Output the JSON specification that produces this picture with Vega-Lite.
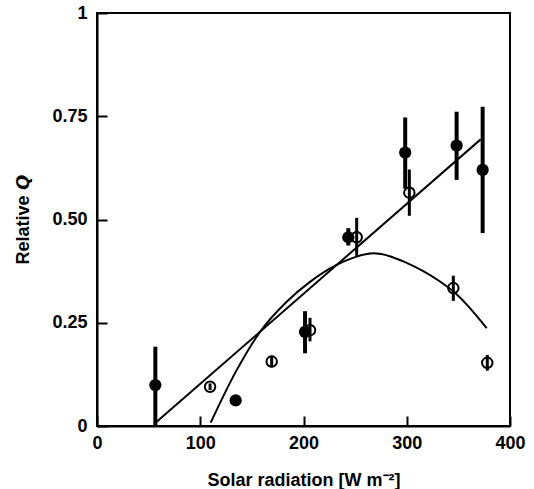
{
  "$schema": "https://vega.github.io/schema/vega-lite/v6.json",
  "width": 413,
  "height": 413,
  "autosize": {"type": "none"},
  "padding": {"left": 97, "top": 13, "right": 24, "bottom": 63},
  "background": "white",
  "config": {
    "view": {"stroke": "black", "strokeWidth": 2},
    "axis": {
      "grid": false,
      "domainColor": "black",
      "domainWidth": 2,
      "tickColor": "black",
      "tickWidth": 2,
      "tickSize": -10,
      "labelFont": "Liberation Sans",
      "labelFontWeight": "bold",
      "labelFontSize": 18,
      "labelColor": "black",
      "labelFlush": false,
      "labelOverlap": false,
      "titleFont": "Liberation Sans",
      "titleFontWeight": "bold",
      "titleFontSize": 18,
      "titleColor": "black"
    }
  },
  "datasets": {
    "pts": [
      {"x": 56.5, "y": 0.099, "lo": 0.0, "hi": 0.192, "type": "filled"},
      {"x": 134.3, "y": 0.062, "lo": 0.062, "hi": 0.062, "type": "filled"},
      {"x": 201.5, "y": 0.228, "lo": 0.176, "hi": 0.278, "type": "filled"},
      {"x": 243.4, "y": 0.457, "lo": 0.437, "hi": 0.479, "type": "filled"},
      {"x": 298.5, "y": 0.662, "lo": 0.575, "hi": 0.747, "type": "filled"},
      {"x": 348.3, "y": 0.679, "lo": 0.596, "hi": 0.761, "type": "filled"},
      {"x": 373.5, "y": 0.620, "lo": 0.467, "hi": 0.773, "type": "filled"},
      {"x": 109.5, "y": 0.095, "lo": 0.087, "hi": 0.103, "type": "open"},
      {"x": 169.2, "y": 0.156, "lo": 0.142, "hi": 0.170, "type": "open"},
      {"x": 206.3, "y": 0.232, "lo": 0.205, "hi": 0.262, "type": "open"},
      {"x": 251.5, "y": 0.457, "lo": 0.412, "hi": 0.504, "type": "open"},
      {"x": 302.5, "y": 0.565, "lo": 0.509, "hi": 0.621, "type": "open"},
      {"x": 345.1, "y": 0.334, "lo": 0.303, "hi": 0.364, "type": "open"},
      {"x": 378.0, "y": 0.153, "lo": 0.134, "hi": 0.172, "type": "open"}
    ],
    "fit": [
      {"x": 57.8, "y": 0.010},
      {"x": 371.6, "y": 0.694}
    ],
    "curve": [
      {"x": 110.1, "y": 0.008},
      {"x": 133.7, "y": 0.128},
      {"x": 157.9, "y": 0.228},
      {"x": 183.7, "y": 0.301},
      {"x": 206.3, "y": 0.349},
      {"x": 232.1, "y": 0.390},
      {"x": 250.0, "y": 0.409},
      {"x": 267.6, "y": 0.418},
      {"x": 285.0, "y": 0.410},
      {"x": 299.9, "y": 0.395},
      {"x": 316.0, "y": 0.375},
      {"x": 332.2, "y": 0.350},
      {"x": 345.0, "y": 0.326},
      {"x": 358.1, "y": 0.294},
      {"x": 377.4, "y": 0.237}
    ]
  },
  "encoding": {
    "x": {
      "field": "x", "type": "quantitative",
      "scale": {"domain": [0, 400], "nice": false, "zero": false},
      "axis": {"values": [0, 100, 200, 300, 400], "labelPadding": 18, "titlePadding": 19, "title": "Solar radiation [W m⁻²]"}
    },
    "y": {
      "field": "y", "type": "quantitative",
      "scale": {"domain": [0, 1], "nice": false, "zero": false},
      "axis": {"values": [0, 0.25, 0.5, 0.75, 1], "labelPadding": 20, "titlePadding": 19,
        "labelExpr": "datum.value == 0 ? '0' : datum.value == 1 ? '1' : format(datum.value, '.2f')",
        "title": "Relative 𝙌"}
    }
  },
  "layer": [
    {
      "data": {"name": "fit"},
      "mark": {"type": "line", "color": "black", "strokeWidth": 2}
    },
    {
      "data": {"name": "curve"},
      "mark": {"type": "line", "color": "black", "strokeWidth": 2, "interpolate": "monotone"}
    },
    {
      "data": {"name": "pts"},
      "transform": [{"filter": "datum.type == 'filled'"}],
      "mark": {"type": "rule", "color": "black", "strokeWidth": 4},
      "encoding": {"y": {"field": "lo", "type": "quantitative"}, "y2": {"field": "hi"}}
    },
    {
      "data": {"name": "pts"},
      "transform": [{"filter": "datum.type == 'open'"}],
      "mark": {"type": "rule", "color": "black", "strokeWidth": 3},
      "encoding": {"y": {"field": "lo", "type": "quantitative"}, "y2": {"field": "hi"}}
    },
    {
      "data": {"name": "pts"},
      "transform": [{"filter": "datum.type == 'filled'"}],
      "mark": {"type": "point", "shape": "circle", "filled": true, "color": "black", "opacity": 1, "size": 150}
    },
    {
      "data": {"name": "pts"},
      "transform": [{"filter": "datum.type == 'open'"}],
      "mark": {"type": "point", "shape": "circle", "filled": false, "color": "black", "opacity": 1, "size": 110, "strokeWidth": 2}
    }
  ]
}
